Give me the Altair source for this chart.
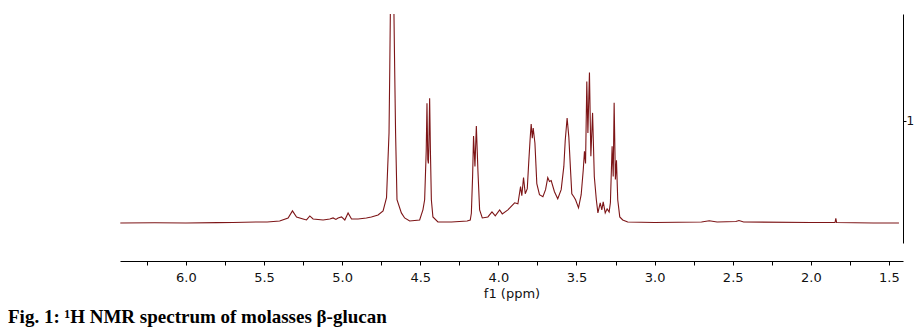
import altair as alt
import pandas as pd

# chemical shift (ppm) and relative intensity
ppm = [6.42, 6.2, 6.0, 5.8, 5.7, 5.55, 5.48, 5.40, 5.346, 5.318, 5.292, 5.25, 5.228, 5.207,
       5.186, 5.122, 5.079, 5.058, 5.04, 5.026, 5.004, 4.983, 4.962, 4.94, 4.898, 4.845,
       4.813, 4.77, 4.738, 4.716, 4.70, 4.695, 4.688, 4.681, 4.673, 4.664, 4.658, 4.649,
       4.621, 4.60, 4.568, 4.504, 4.483, 4.472, 4.462, 4.457, 4.452, 4.448, 4.445, 4.44,
       4.435, 4.429, 4.419, 4.387, 4.30, 4.20, 4.18, 4.173, 4.165, 4.159, 4.15, 4.141,
       4.131, 4.12, 4.103, 4.067, 4.041, 4.02, 3.992, 3.975, 3.939, 3.896, 3.875, 3.858,
       3.85, 3.839, 3.828, 3.815, 3.805, 3.796, 3.79, 3.783, 3.777, 3.766, 3.754, 3.737,
       3.715, 3.698, 3.684, 3.673, 3.662, 3.641, 3.62, 3.598, 3.581, 3.572, 3.56, 3.549,
       3.538, 3.53, 3.517, 3.506, 3.487, 3.47, 3.457, 3.449, 3.442, 3.434, 3.427, 3.417,
       3.408, 3.397, 3.386, 3.373, 3.363, 3.348, 3.338, 3.329, 3.316, 3.304, 3.291, 3.283,
       3.272, 3.265, 3.259, 3.251, 3.244, 3.236, 3.223, 3.204, 3.172, 3.0, 2.7, 2.65,
       2.6, 2.48, 2.46, 2.43, 2.0, 1.845, 1.84, 1.835, 1.6, 1.436]
intensity = [-0.01, -0.008, -0.01, -0.006, -0.005, 0.0, 0.0, 0.01, 0.04, 0.11, 0.05, 0.03, 0.02, 0.06,
             0.03, 0.02, 0.03, 0.04, 0.025, 0.04, 0.05, 0.02, 0.09, 0.03, 0.03, 0.04,
             0.05, 0.07, 0.11, 0.24, 0.88, 1.54, 2.6, 3.2, 2.6, 1.54, 0.88, 0.22,
             0.09, 0.04, 0.01, 0.02, 0.12, 0.22, 0.7, 1.175, 0.62, 0.58, 0.75, 1.225,
             0.7, 0.22, 0.05, 0.0, 0.0, 0.01, 0.02, 0.086, 0.45, 0.85, 0.55, 0.95,
             0.51, 0.12, 0.04, 0.05, 0.10, 0.06, 0.12, 0.08, 0.12, 0.19, 0.18, 0.35,
             0.26, 0.44, 0.28, 0.33, 0.61, 0.84, 0.97, 0.83, 0.93, 0.78, 0.38, 0.27,
             0.25, 0.32, 0.44, 0.40, 0.41, 0.30, 0.23, 0.32, 0.55, 0.81, 1.03, 0.84,
             0.51, 0.28, 0.25, 0.22, 0.14, 0.27, 0.51, 0.70, 0.58, 1.39, 0.88, 1.48,
             0.65, 1.08, 0.45, 0.22, 0.09, 0.19, 0.12, 0.20, 0.09, 0.13, 0.10, 0.19,
             0.75, 0.45, 1.18, 0.42, 0.61, 0.22, 0.05, 0.02, 0.0, -0.005, 0.0, 0.012,
             0.0, 0.005, 0.015, 0.0, -0.005, -0.005, 0.035, -0.005, -0.01, -0.01]

x_ticks = [6.25, 6.0, 5.75, 5.5, 5.25, 5.0, 4.75, 4.5, 4.25, 4.0, 3.75, 3.5, 3.25,
           3.0, 2.75, 2.5, 2.25, 2.0, 1.75, 1.5]
y_ticks = [1]
caption = ["Fig. 1: \u00b9H NMR spectrum of molasses \u03b2-glucan"]

df = pd.DataFrame({"ppm": ppm, "intensity": intensity})

spectrum = alt.Chart(df).mark_line(color="#7d1517", strokeWidth=1.1, clip=True).encode(
    x=alt.X("ppm:Q",
            scale=alt.Scale(domain=[1.41, 6.422], reverse=True, nice=False, zero=False),
            axis=alt.Axis(values=x_ticks, orient="bottom", offset=18, grid=False,
                          labelExpr="(datum.value * 4) % 2 == 0 ? format(datum.value, '.1f') : ''",
                          labelOverlap=False, labelFlush=False,
                          domainColor="black", tickColor="black", tickSize=4,
                          labelPadding=6, labelFont="DejaVu Sans", labelFontSize=13,
                          labelColor="#111111", title="f1 (ppm)", titleFont="DejaVu Sans",
                          titleFontSize=13, titleFontWeight="normal", titleColor="#111111",
                          titlePadding=3)),
    y=alt.Y("intensity:Q",
            scale=alt.Scale(domain=[-0.208, 2.059], nice=False, zero=False),
            axis=alt.Axis(values=y_ticks, orient="right", grid=False, domainColor="black",
                          tickColor="black", tickSize=3, labelPadding=0,
                          labelFont="DejaVu Sans", labelFontSize=12, labelColor="#111111",
                          title=None)),
)

cap = alt.Chart(pd.DataFrame({"t": caption})).mark_text(
    align="left", baseline="alphabetic", font="Liberation Serif", fontWeight="bold",
    fontSize=19, color="black"
).encode(x=alt.value(-112), y=alt.value(309), text="t:N")

chart = alt.layer(spectrum, cap).properties(
    width=783, height=229,
    padding={"left": 112, "top": 6, "right": 11, "bottom": 85},
    autosize=alt.AutoSizeParams(type="none"),
).configure_view(stroke=None)

chart.save("out.html", embed_options={"renderer": "svg", "actions": False})
